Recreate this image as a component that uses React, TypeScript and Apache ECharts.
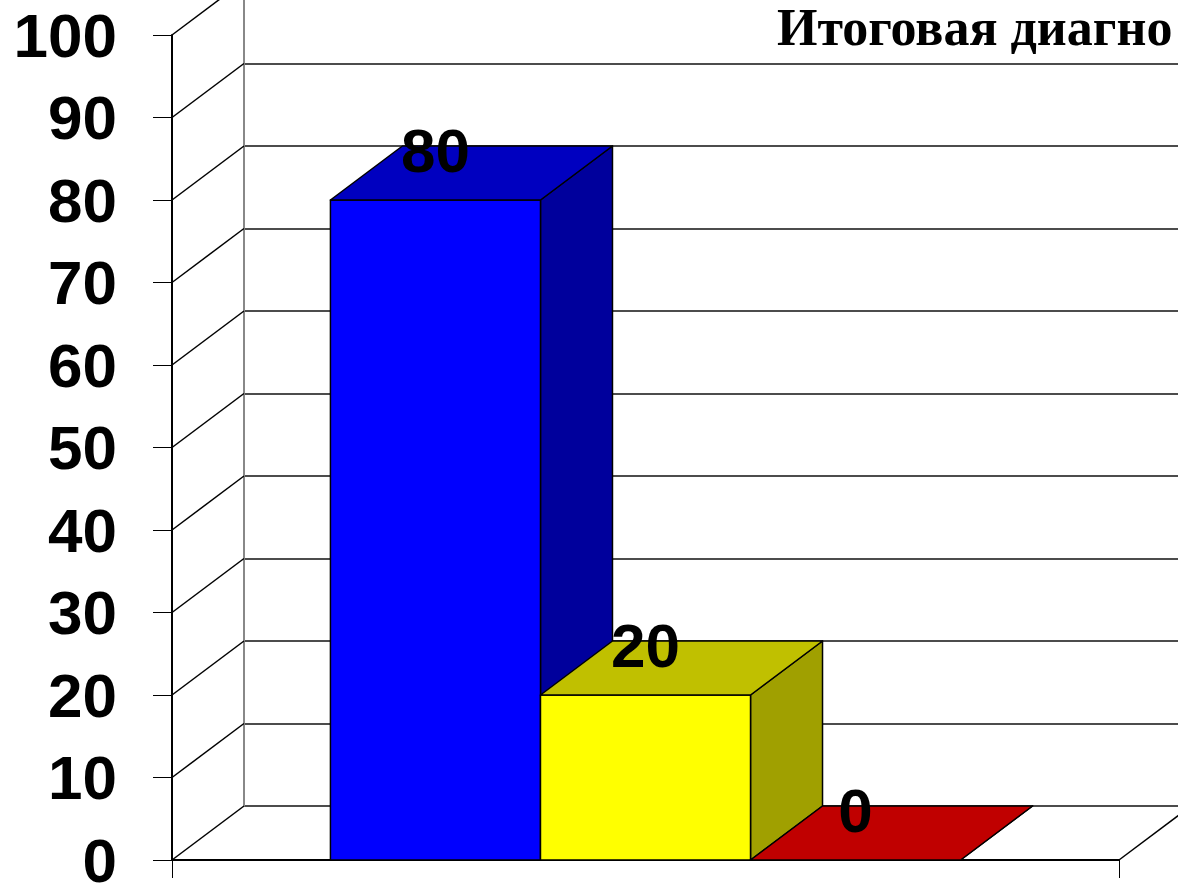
import React, { useEffect, useRef } from 'react';
import * as echarts from 'echarts';

const titleText = 'Итоговая диагно';
const category = ['Итоговая диагностика'];
const seriesNames = ['Высокий уровень', 'Средний уровень', 'Низкий уровень'];
const values = [80, 20, 0];
const yTicks = [0, 10, 20, 30, 40, 50, 60, 70, 80, 90, 100];

const DX = 72;
const DY = -54;
const BAR_FRACTION = 0.2218;
const FRONT = ['#0000FF', '#FFFF00', '#FF0000'];
const TOP = ['#0000C0', '#C0C000', '#C00000'];
const SIDE = ['#00009C', '#A0A000', '#900000'];
const FONT = 'Liberation Sans, Arial, sans-serif';

export default function App() {
  const ref = useRef<HTMLDivElement>(null);
  useEffect(() => {
    const chart = echarts.init(ref.current!, null, { renderer: 'svg' });
    const option: any = {
      animation: false,
      backgroundColor: '#ffffff',
      graphic: [
        {
          type: 'text',
          x: 777,
          y: 27,
          style: {
            text: titleText,
            fontSize: 52,
            lineHeight: 44,
            fontWeight: 'bold',
            fontFamily: 'Liberation Serif, Times New Roman, serif',
            fill: '#000',
            align: 'left',
            verticalAlign: 'middle',
          },
        },
      ],
      grid: [
        { left: 172, top: 35, width: 947, height: 825, outerBoundsMode: 'none', containLabel: false },
        { left: 172 + DX, top: 35 + DY, width: 947, height: 825, outerBoundsMode: 'none', containLabel: false },
      ],
      xAxis: [
        {
          gridIndex: 0,
          type: 'category',
          data: category,
          boundaryGap: true,
          axisLine: { show: true, lineStyle: { color: '#000', width: 2 } },
          axisTick: { show: true, length: 18, lineStyle: { color: '#000', width: 1 } },
          axisLabel: { show: false },
          splitLine: { show: false },
        },
        { gridIndex: 1, type: 'category', data: category, show: false },
      ],
      yAxis: [
        {
          gridIndex: 0,
          type: 'value',
          min: 0,
          max: 100,
          interval: 10,
          axisLine: { show: true, lineStyle: { color: '#000', width: 2 } },
          axisTick: { show: true, length: 19, lineStyle: { color: '#000', width: 1 } },
          axisLabel: {
            margin: 55,
            fontSize: 62,
            lineHeight: 48,
            fontWeight: 'bold',
            fontFamily: FONT,
            color: '#000',
          },
          splitLine: { show: false },
        },
        {
          gridIndex: 1,
          type: 'value',
          min: 0,
          max: 100,
          interval: 10,
          axisLine: { show: true, lineStyle: { color: '#888', width: 2 } },
          axisTick: { show: false },
          axisLabel: { show: false },
          splitLine: { show: true, lineStyle: { color: '#111', width: 1.5 } },
        },
      ],
      series: [
        {
          type: 'custom',
          name: 'wall',
          xAxisIndex: 0,
          yAxisIndex: 0,
          silent: true,
          data: yTicks.map((v) => [0, v]),
          renderItem: (params: any, api: any) => {
            const y = api.coord([0, api.value(1)])[1];
            const x = params.coordSys.x;
            return {
              type: 'line',
              shape: { x1: x, y1: y, x2: x + DX, y2: y + DY },
              style: { stroke: '#000', lineWidth: 1.5 },
            };
          },
        },
        {
          type: 'custom',
          name: 'floor',
          xAxisIndex: 0,
          yAxisIndex: 0,
          silent: true,
          data: [[0, 0]],
          renderItem: (params: any, api: any) => {
            const y = api.coord([0, 0])[1];
            const x = params.coordSys.x + params.coordSys.width;
            return {
              type: 'line',
              shape: { x1: x, y1: y, x2: x + DX, y2: y + DY },
              style: { stroke: '#000', lineWidth: 1.5 },
            };
          },
        },
        {
          type: 'custom',
          name: 'bars',
          xAxisIndex: 0,
          yAxisIndex: 0,
          data: values.map((v, i) => ({ name: seriesNames[i], value: [0, v] })),
          renderItem: (params: any, api: any) => {
            const i = params.dataIndex;
            const v = api.value(1);
            const band = api.size([1, 0])[0];
            const barW = band * BAR_FRACTION;
            const center = api.coord([0, 0])[0];
            const x0 = center - 1.5 * barW + i * barW;
            const x1 = x0 + barW;
            const yTop = api.coord([0, v])[1];
            const yBase = api.coord([0, 0])[1];
            const edge = { stroke: '#000', lineWidth: 1.5, lineJoin: 'round' };
            return {
              type: 'group',
              children: [
                {
                  type: 'polygon',
                  shape: { points: [[x1, yTop], [x1 + DX, yTop + DY], [x1 + DX, yBase + DY], [x1, yBase]] },
                  style: { fill: SIDE[i], ...edge },
                },
                {
                  type: 'rect',
                  shape: { x: x0, y: yTop, width: barW, height: yBase - yTop },
                  style: { fill: FRONT[i], ...edge },
                },
                {
                  type: 'polygon',
                  shape: { points: [[x0, yTop], [x1, yTop], [x1 + DX, yTop + DY], [x0 + DX, yTop + DY]] },
                  style: { fill: TOP[i], ...edge },
                },
                {
                  type: 'text',
                  x: (x0 + x1) / 2,
                  y: yTop - 50,
                  style: {
                    text: String(v),
                    fontSize: 62,
                    fontWeight: 'bold',
                    fontFamily: FONT,
                    fill: '#000',
                    align: 'center',
                    verticalAlign: 'middle',
                  },
                },
              ],
            };
          },
        },
      ],
    };
    chart.setOption(option);
    return () => chart.dispose();
  }, []);
  return <div ref={ref} style={{ position: 'absolute', left: 0, top: 0, width: 1178, height: 885 }} />;
}
